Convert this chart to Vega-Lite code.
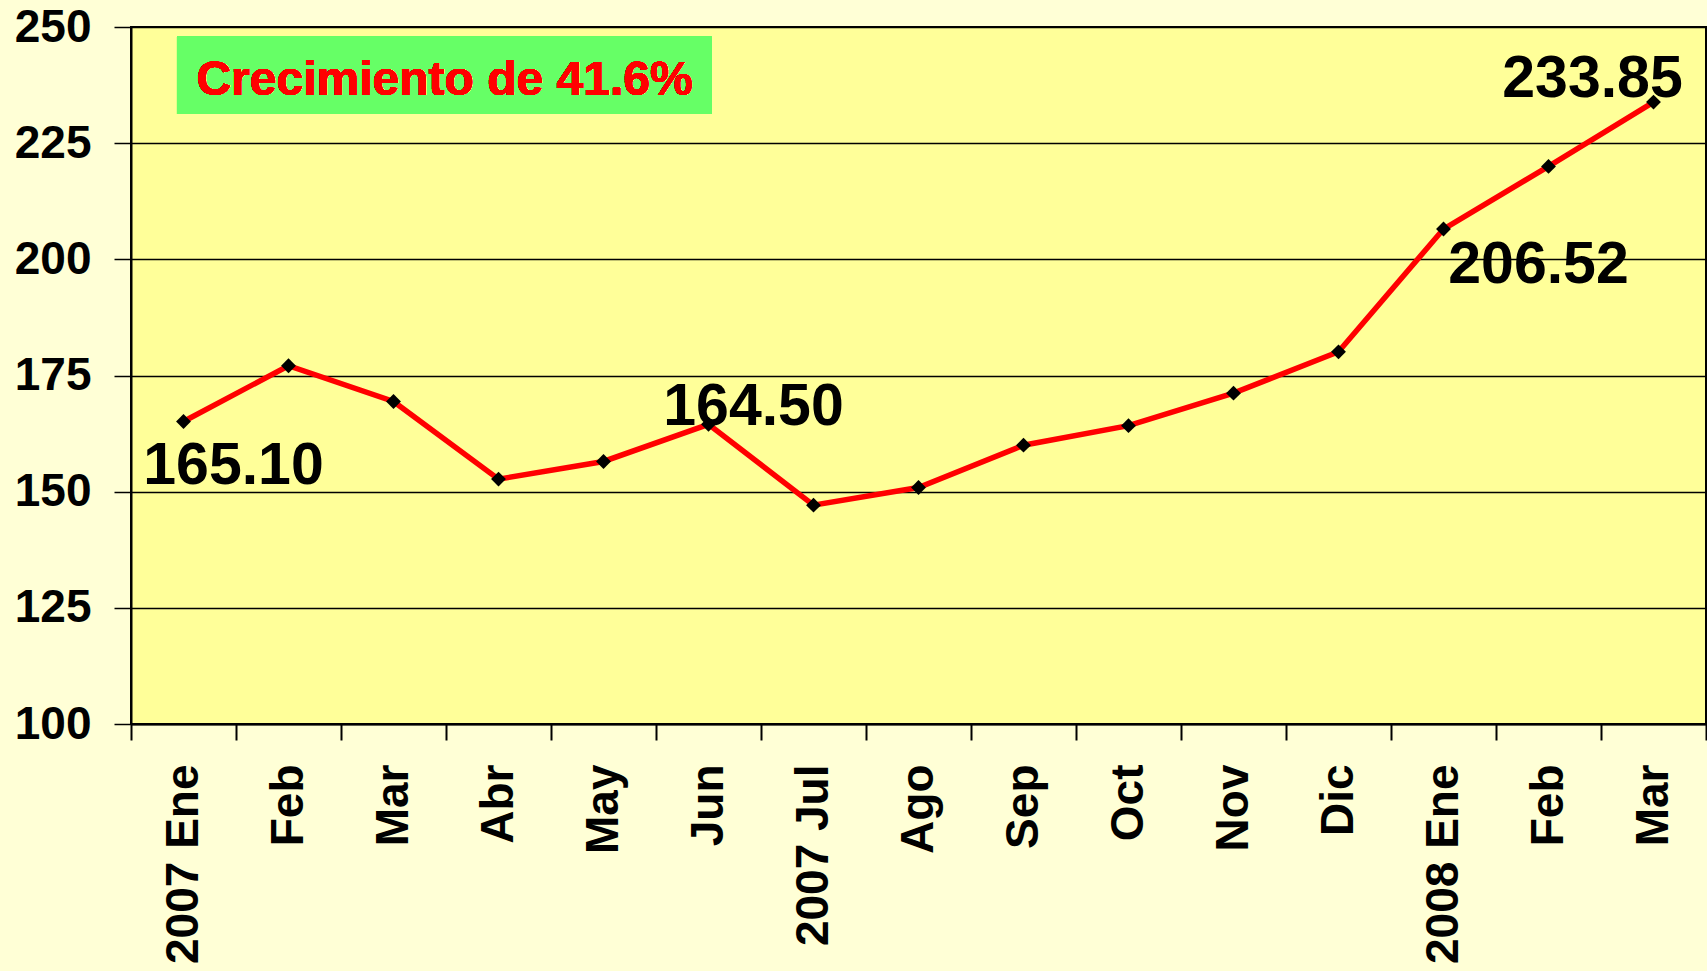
{
  "$schema": "https://vega.github.io/schema/vega-lite/v6.json",
  "width": 1575,
  "height": 697,
  "autosize": {"type": "none"},
  "padding": {"left": 131, "top": 27, "right": 1, "bottom": 247},
  "background": "#FFFFD6",
  "config": {
    "font": "Liberation Sans",
    "view": {"fill": "#FFFF99", "stroke": "#000000", "strokeWidth": 2},
    "axisY": {
      "title": null,
      "grid": true, "gridColor": "#000000", "gridWidth": 1.5, "gridOpacity": 1,
      "domain": true, "domainColor": "#000000", "domainWidth": 2,
      "ticks": true, "tickColor": "#000000", "tickSize": 17, "tickWidth": 1.5,
      "labelFont": "Liberation Sans", "labelFontSize": 46, "labelFontWeight": "bold", "labelColor": "#000000",
      "labelPadding": 23
    }
  },
  "data": {
    "values": [
      {"periodo": "2007 Ene", "indice": 165.10},
      {"periodo": "Feb", "indice": 177.1},
      {"periodo": "Mar", "indice": 169.4},
      {"periodo": "Abr", "indice": 152.7},
      {"periodo": "May", "indice": 156.5},
      {"periodo": "Jun", "indice": 164.50},
      {"periodo": "2007 Jul", "indice": 147.1},
      {"periodo": "Ago", "indice": 150.9},
      {"periodo": "Sep", "indice": 160.0},
      {"periodo": "Oct", "indice": 164.2},
      {"periodo": "Nov", "indice": 171.2},
      {"periodo": "Dic", "indice": 180.1},
      {"periodo": "2008 Ene", "indice": 206.52},
      {"periodo": "Feb 2008", "indice": 220.0},
      {"periodo": "Mar 2008", "indice": 233.85}
    ]
  },
  "layer": [
    {
      "encoding": {
        "x": {
          "field": "periodo", "type": "nominal", "sort": null,
          "scale": {"paddingInner": 0, "paddingOuter": 0},
          "axis": {
            "orient": "bottom",
            "title": null, "labelAngle": -90, "labelAlign": "right", "labelBaseline": "middle",
            "tickBand": "extent", "ticks": true, "tickSize": 16, "tickColor": "#000000", "tickWidth": 2,
            "domain": true, "domainColor": "#000000", "domainWidth": 2,
            "labelFont": "Liberation Sans", "labelFontSize": 46, "labelFontWeight": "bold", "labelColor": "#000000",
            "labelPadding": 24, "labelLimit": 0, "labelOverlap": false, "grid": false,
            "labelExpr": "datum.value ? replace(datum.value, ' 2008', '') : ''"
          }
        },
        "y": {
          "field": "indice", "type": "quantitative",
          "scale": {"domain": [100, 250], "nice": false, "zero": false},
          "axis": {"title": null, "values": [100, 125, 150, 175, 200, 225, 250]}
        }
      },
      "layer": [
        {"mark": {"type": "line", "color": "#FF0000", "strokeWidth": 5.5}},
        {"mark": {"type": "point", "shape": "diamond", "filled": true, "color": "#000000", "size": 220, "opacity": 1}},
        {
          "transform": [{"filter": "datum.periodo == '2007 Ene'"}],
          "mark": {"type": "text", "fontSize": 59, "fontWeight": "bold", "color": "#000000", "align": "center", "baseline": "alphabetic", "dx": 50, "dy": 62, "font": "Liberation Sans"},
          "encoding": {"text": {"field": "indice", "type": "quantitative", "format": ".2f"}}
        },
        {
          "transform": [{"filter": "datum.periodo == 'Jun'"}],
          "mark": {"type": "text", "fontSize": 59, "fontWeight": "bold", "color": "#000000", "align": "center", "baseline": "alphabetic", "dx": 45, "dy": 1, "font": "Liberation Sans"},
          "encoding": {"text": {"field": "indice", "type": "quantitative", "format": ".2f"}}
        },
        {
          "transform": [{"filter": "datum.periodo == '2008 Ene'"}],
          "mark": {"type": "text", "fontSize": 59, "fontWeight": "bold", "color": "#000000", "align": "center", "baseline": "alphabetic", "dx": 95, "dy": 54, "font": "Liberation Sans"},
          "encoding": {"text": {"field": "indice", "type": "quantitative", "format": ".2f"}}
        },
        {
          "transform": [{"filter": "datum.periodo == 'Mar 2008'"}],
          "mark": {"type": "text", "fontSize": 59, "fontWeight": "bold", "color": "#000000", "align": "center", "baseline": "alphabetic", "dx": -61, "dy": -5, "font": "Liberation Sans"},
          "encoding": {"text": {"field": "indice", "type": "quantitative", "format": ".2f"}}
        }
      ]
    },
    {
      "layer": [
        {
          "mark": {"type": "rect", "fill": "#66FF66"},
          "encoding": {
            "x": {"datum": 0.438, "type": "quantitative", "scale": {"domain": [0, 15], "nice": false, "zero": false}, "axis": null},
            "x2": {"datum": 5.533},
            "y": {"datum": 247.9, "type": "quantitative", "axis": {"title": null, "values": [100, 125, 150, 175, 200, 225, 250]}},
            "y2": {"datum": 231.3}
          }
        },
        {
          "mark": {"type": "text", "color": "#FF0000", "fontSize": 48, "fontWeight": "bold", "align": "center", "baseline": "alphabetic", "font": "Liberation Sans"},
          "encoding": {
            "x": {"datum": 2.986, "type": "quantitative"},
            "y": {"datum": 235.4, "type": "quantitative"},
            "text": {"value": "Crecimiento de 41.6%"}
          }
        }
      ]
    }
  ],
  "resolve": {"scale": {"x": "independent"}}
}
